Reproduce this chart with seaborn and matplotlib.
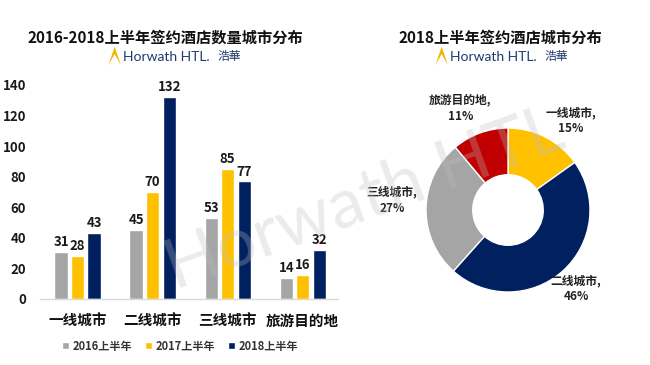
import matplotlib
matplotlib.use("Agg")
import matplotlib.pyplot as plt
from matplotlib.patches import Polygon
import seaborn as sns
import pandas as pd
import numpy as np

categories = ["一线城市", "二线城市", "三线城市", "旅游目的地"]
years = ["2016上半年", "2017上半年", "2018上半年"]
values_2016 = [31, 45, 53, 14]
values_2017 = [28, 70, 85, 16]
values_2018 = [43, 132, 77, 32]
yticks = [0, 20, 40, 60, 80, 100, 120, 140]

pie_labels = ["一线城市", "二线城市", "三线城市", "旅游目的地"]
pie_values = [15, 46, 27, 11]

bar_colors = ["#A5A5A5", "#FFC000", "#002060"]
pie_colors = ["#FFC000", "#002060", "#A5A5A5", "#C00000"]

sns.set_theme(style="white")
plt.rcParams["font.family"] = ["Noto Sans CJK SC", "DejaVu Sans"]
plt.rcParams["font.weight"] = "bold"

df = pd.DataFrame({
    "category": categories * 3,
    "year": [years[0]] * 4 + [years[1]] * 4 + [years[2]] * 4,
    "value": values_2016 + values_2017 + values_2018,
})

fig = plt.figure(figsize=(6.5, 3.65), dpi=100)
fig.patch.set_facecolor("white")

# Bar chart
ax = fig.add_axes([40 / 650, 66 / 365, 298 / 650, 214 / 365])
sns.barplot(data=df, x="category", y="value", hue="year", order=categories,
            hue_order=years, palette=bar_colors, width=0.66, gap=0.2,
            saturation=1, ax=ax, legend=True)
for c in ax.containers:
    ax.bar_label(c, padding=2, fontsize=9.5, fontweight="bold", color="#1a1a1a",
                 clip_on=False)
ax.set_ylim(0, 140)
ax.set_xlim(-0.5, 3.47)
ax.set_yticks(yticks)
ax.set_yticklabels([str(t) for t in yticks], fontsize=9.5, fontweight="bold", color="#1a1a1a")
ax.tick_params(axis="y", length=0, pad=10)
ax.tick_params(axis="x", length=0, pad=10)
for lbl in ax.get_xticklabels():
    lbl.set_fontsize(10.5)
    lbl.set_fontweight("bold")
    lbl.set_color("#111111")
ax.set_xlabel("")
ax.set_ylabel("")
for s in ["top", "right", "left"]:
    ax.spines[s].set_visible(False)
ax.spines["bottom"].set_color("#D9D9D9")
ax.spines["bottom"].set_linewidth(1)
ax.set_facecolor("white")
ax.grid(False)
leg = ax.legend(loc="upper center", bbox_to_anchor=(0.47, -0.17), ncol=3, frameon=False,
                fontsize=8, handlelength=0.6, handleheight=0.6, handletextpad=0.3,
                columnspacing=1.2, borderaxespad=0)
for t in leg.get_texts():
    t.set_fontweight("bold")
    t.set_color("#333333")

# Donut chart
pax = fig.add_axes([405.5 / 650, 52.5 / 365, 205 / 650, 205 / 365])
wedges, texts = pax.pie(pie_values, colors=pie_colors, startangle=90, counterclock=False,
                        labels=[f"{l},\n{v}%" for l, v in zip(pie_labels, pie_values)],
                        labeldistance=1.33,
                        wedgeprops=dict(width=0.57, edgecolor="white", linewidth=1),
                        textprops=dict(fontsize=8.5, fontweight="bold", color="#222222",
                                       ha="center", va="center", linespacing=1.3))
# label placement (angle offset in degrees, radial distance)
label_place = [(-8, 1.33), (-1, 1.27), (-4, 1.42), (5, 1.37)]
for w, t, (da, r) in zip(wedges, texts, label_place):
    ang = np.deg2rad((w.theta1 + w.theta2) / 2 + da)
    t.set_position((r * np.cos(ang), r * np.sin(ang)))
pax.set_aspect("equal")

# Titles
fig.text(165 / 650, 1 - 38 / 365, "2016-2018上半年签约酒店数量城市分布", ha="center",
         va="center", fontsize=11, fontweight="bold", color="#111111")
fig.text(500 / 650, 1 - 38 / 365, "2018上半年签约酒店城市分布", ha="center",
         va="center", fontsize=11, fontweight="bold", color="#111111")

def logo(cx):
    x0 = cx / 650
    y0 = 1 - 65 / 365
    tri = Polygon([[x0 - 0.030, y0], [x0 - 0.0205, y0 + 0.05], [x0 - 0.011, y0],
                   [x0 - 0.0205, y0 + 0.03]], closed=True, transform=fig.transFigure,
                  facecolor="#F2B400", edgecolor="none")
    fig.patches.append(tri)
    fig.text(x0 - 0.008, y0 + 0.022, "Horwath HTL.", ha="left", va="center",
             fontsize=10, fontweight="normal", color="#1F3A6E", family=["Lato", "DejaVu Sans"])
    fig.text(x0 + 0.138, y0 + 0.022, "浩華", ha="left", va="center",
             fontsize=8.5, fontweight="normal", color="#1F3A6E")

logo(128)
logo(455)

# Watermark
fig.text(365 / 650, 1 - 200 / 365, "Horwath HTL", ha="center", va="center",
         rotation=20, fontsize=50, fontweight="normal", color="#BDBDBD", alpha=0.3,
         family=["Lato", "DejaVu Sans"], zorder=10)

fig.savefig("out.png", dpi=100, facecolor="white")
